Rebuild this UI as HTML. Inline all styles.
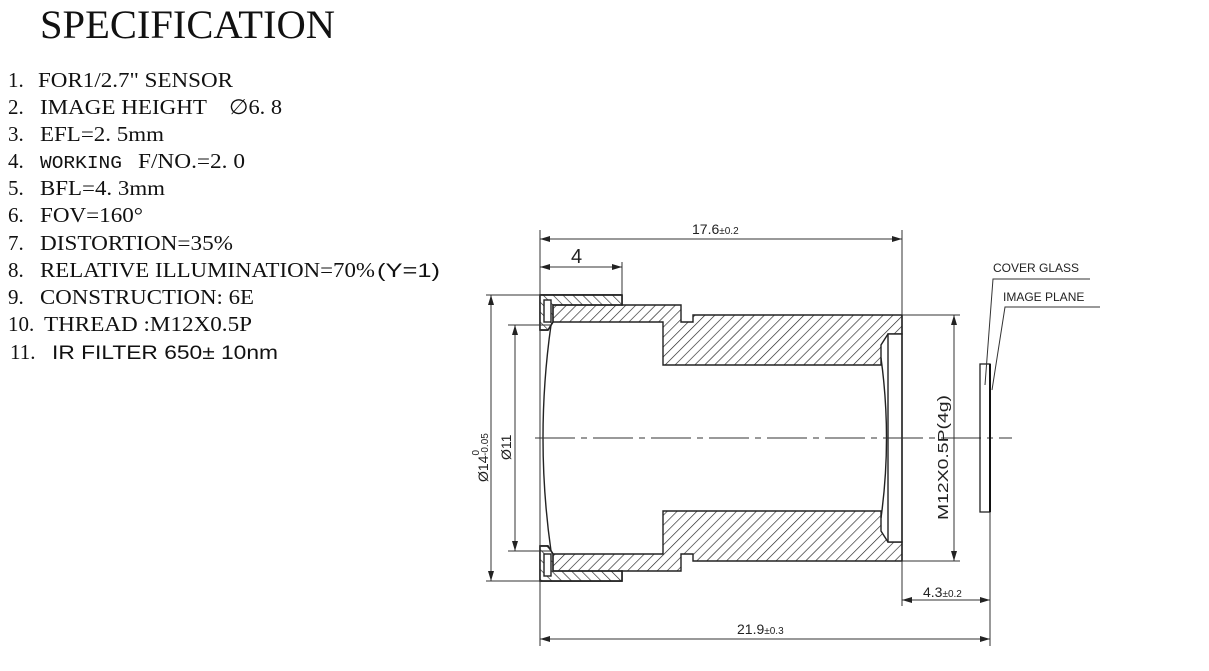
<!DOCTYPE html>
<html><head><meta charset="utf-8"><style>
html,body{margin:0;padding:0;background:#fff;}
body{width:1209px;height:671px;overflow:hidden;position:relative;}
svg{position:absolute;left:0;top:0;}
</style></head><body>
<svg width="1209" height="671" viewBox="0 0 1209 671" xmlns="http://www.w3.org/2000/svg">
<defs>
<pattern id="h" width="7" height="7" patternUnits="userSpaceOnUse" patternTransform="rotate(45)">
<line x1="0" y1="0" x2="0" y2="7" stroke="#222" stroke-width="1.3"/>
</pattern>
<pattern id="h2" width="7" height="7" patternUnits="userSpaceOnUse" patternTransform="rotate(-45)">
<line x1="0" y1="0" x2="0" y2="7" stroke="#222" stroke-width="1.3"/>
</pattern>
<marker id="a" markerWidth="10" markerHeight="6" refX="10" refY="3" orient="auto-start-reverse" markerUnits="userSpaceOnUse">
<path d="M0,0 L10,3 L0,6 z" fill="#222"/></marker>
</defs>
<g font-family="Liberation Serif, serif" fill="#111">
<text x="40" y="38" font-size="40" textLength="295" lengthAdjust="spacingAndGlyphs">SPECIFICATION</text>
<g font-size="21">
<text x="8" y="87">1.</text><text x="38" y="87" textLength="195" lengthAdjust="spacingAndGlyphs">FOR1/2.7" SENSOR</text>
<text x="8" y="114">2.</text><text x="40" y="114" textLength="167" lengthAdjust="spacingAndGlyphs">IMAGE HEIGHT</text><text x="229" y="114" textLength="53" lengthAdjust="spacingAndGlyphs">∅6. 8</text>
<text x="8" y="141">3.</text><text x="40" y="141" textLength="124" lengthAdjust="spacingAndGlyphs">EFL=2. 5mm</text>
<text x="8" y="168">4.</text><text x="40" y="168" font-family="Liberation Mono, monospace" font-size="18" textLength="82" lengthAdjust="spacingAndGlyphs">WORKING</text><text x="138" y="168" textLength="107" lengthAdjust="spacingAndGlyphs">F/NO.=2. 0</text>
<text x="8" y="195">5.</text><text x="40" y="195" textLength="125" lengthAdjust="spacingAndGlyphs">BFL=4. 3mm</text>
<text x="8" y="222">6.</text><text x="40" y="222" textLength="103" lengthAdjust="spacingAndGlyphs">FOV=160°</text>
<text x="8" y="250">7.</text><text x="40" y="250" textLength="193" lengthAdjust="spacingAndGlyphs">DISTORTION=35%</text>
<text x="8" y="277">8.</text><text x="40" y="277" textLength="335" lengthAdjust="spacingAndGlyphs">RELATIVE ILLUMINATION=70%</text><text x="377" y="277" font-family="Liberation Sans, sans-serif" font-size="19" textLength="63" lengthAdjust="spacingAndGlyphs">(Y=1)</text>
<text x="8" y="304">9.</text><text x="40" y="304" textLength="214" lengthAdjust="spacingAndGlyphs">CONSTRUCTION: 6E</text>
<text x="8" y="331">10.</text><text x="44" y="331" textLength="208" lengthAdjust="spacingAndGlyphs">THREAD :M12X0.5P</text>
<text x="10" y="359">11.</text><text x="52" y="359" font-family="Liberation Sans, sans-serif" font-size="19" textLength="226" lengthAdjust="spacingAndGlyphs">IR FILTER 650± 10nm</text>
</g></g>

<g stroke="#222" stroke-width="1.4">
<path d="M540,295 L622,295 L622,305 L681,305 L681,322 L693,322 L693,315 L902,315 L902,334 L888,334 L881,345 L881,365 L663,365 L663,322 L553,322 L548,330 L540,330 Z" fill="url(#h)"/>
<path d="M540,581 L622,581 L622,571 L681,571 L681,554 L693,554 L693,561 L902,561 L902,542 L888,542 L881,531 L881,511 L663,511 L663,554 L553,554 L548,546 L540,546 Z" fill="url(#h)"/>
<path d="M540,295 L622,295 L622,305 L553,305 L553,322 L548,330 L540,330 Z" fill="#fff"/>
<path d="M540,295 L622,295 L622,305 L553,305 L553,322 L548,330 L540,330 Z" fill="url(#h2)"/>
<path d="M540,581 L622,581 L622,571 L553,571 L553,554 L548,546 L540,546 Z" fill="#fff"/>
<path d="M540,581 L622,581 L622,571 L553,571 L553,554 L548,546 L540,546 Z" fill="url(#h2)"/>
<rect x="544" y="300" width="7" height="22" fill="#fff"/>
<rect x="544" y="554" width="7" height="22" fill="#fff"/>
<rect x="888" y="334" width="14" height="208" fill="#fff"/>
<path d="M551,325 Q535,438 551,551" fill="none"/>
<path d="M881,358 Q892,438 881,518" fill="none"/>
<line x1="902" y1="315" x2="902" y2="561"/>
</g>

<g stroke="#333" stroke-width="1" fill="none">
<line x1="535" y1="438" x2="1012" y2="438" stroke-dasharray="40,6,6,6"/>
<line x1="540" y1="230" x2="540" y2="646"/>
<line x1="622" y1="262" x2="622" y2="295"/>
<line x1="902" y1="230" x2="902" y2="315"/>
<line x1="902" y1="561" x2="902" y2="606"/>
<line x1="990" y1="364" x2="990" y2="646"/>
<line x1="486" y1="295" x2="540" y2="295"/>
<line x1="486" y1="581" x2="540" y2="581"/>
<line x1="508" y1="325" x2="551" y2="325"/>
<line x1="508" y1="551" x2="551" y2="551"/>
<line x1="902" y1="315" x2="960" y2="315"/>
<line x1="902" y1="561" x2="960" y2="561"/>
<line x1="540" y1="239" x2="902" y2="239" marker-start="url(#a)" marker-end="url(#a)"/>
<line x1="540" y1="267" x2="622" y2="267" marker-start="url(#a)" marker-end="url(#a)"/>
<line x1="491" y1="295" x2="491" y2="581" marker-start="url(#a)" marker-end="url(#a)"/>
<line x1="515" y1="325" x2="515" y2="551" marker-start="url(#a)" marker-end="url(#a)"/>
<line x1="954" y1="315" x2="954" y2="561" marker-start="url(#a)" marker-end="url(#a)"/>
<line x1="902" y1="600" x2="990" y2="600" marker-start="url(#a)" marker-end="url(#a)"/>
<line x1="540" y1="639" x2="990" y2="639" marker-start="url(#a)" marker-end="url(#a)"/>
<rect x="980" y="364" width="10" height="148" stroke="#222" stroke-width="1.3"/>
<line x1="990" y1="364" x2="990" y2="512" stroke="#111" stroke-width="2"/>
<polyline points="1090,279 993,279 985,385"/>
<polyline points="1100,307 1005,307 992,390"/>
</g>

<g font-family="Liberation Sans, sans-serif" fill="#222">
<text x="692" y="234" font-size="14">17.6<tspan font-size="10">±0.2</tspan></text>
<text x="571" y="263" font-size="20">4</text>
<text x="737" y="634" font-size="14">21.9<tspan font-size="10">±0.3</tspan></text>
<text x="923" y="597" font-size="14">4.3<tspan font-size="10">±0.2</tspan></text>
<text x="993" y="272" font-size="12">COVER GLASS</text>
<text x="1003" y="301" font-size="12">IMAGE PLANE</text>
<text transform="translate(948,520) rotate(-90)" font-size="15" textLength="125" lengthAdjust="spacingAndGlyphs">M12X0.5P(4g)</text>
<text transform="translate(511,460) rotate(-90)" font-size="14">Ø11</text>
<text transform="translate(488,482) rotate(-90)" font-size="14">Ø14<tspan font-size="10" dy="-9">0</tspan><tspan font-size="10" dx="-6" dy="9">-0.05</tspan></text>
</g>
</svg>
</body></html>
